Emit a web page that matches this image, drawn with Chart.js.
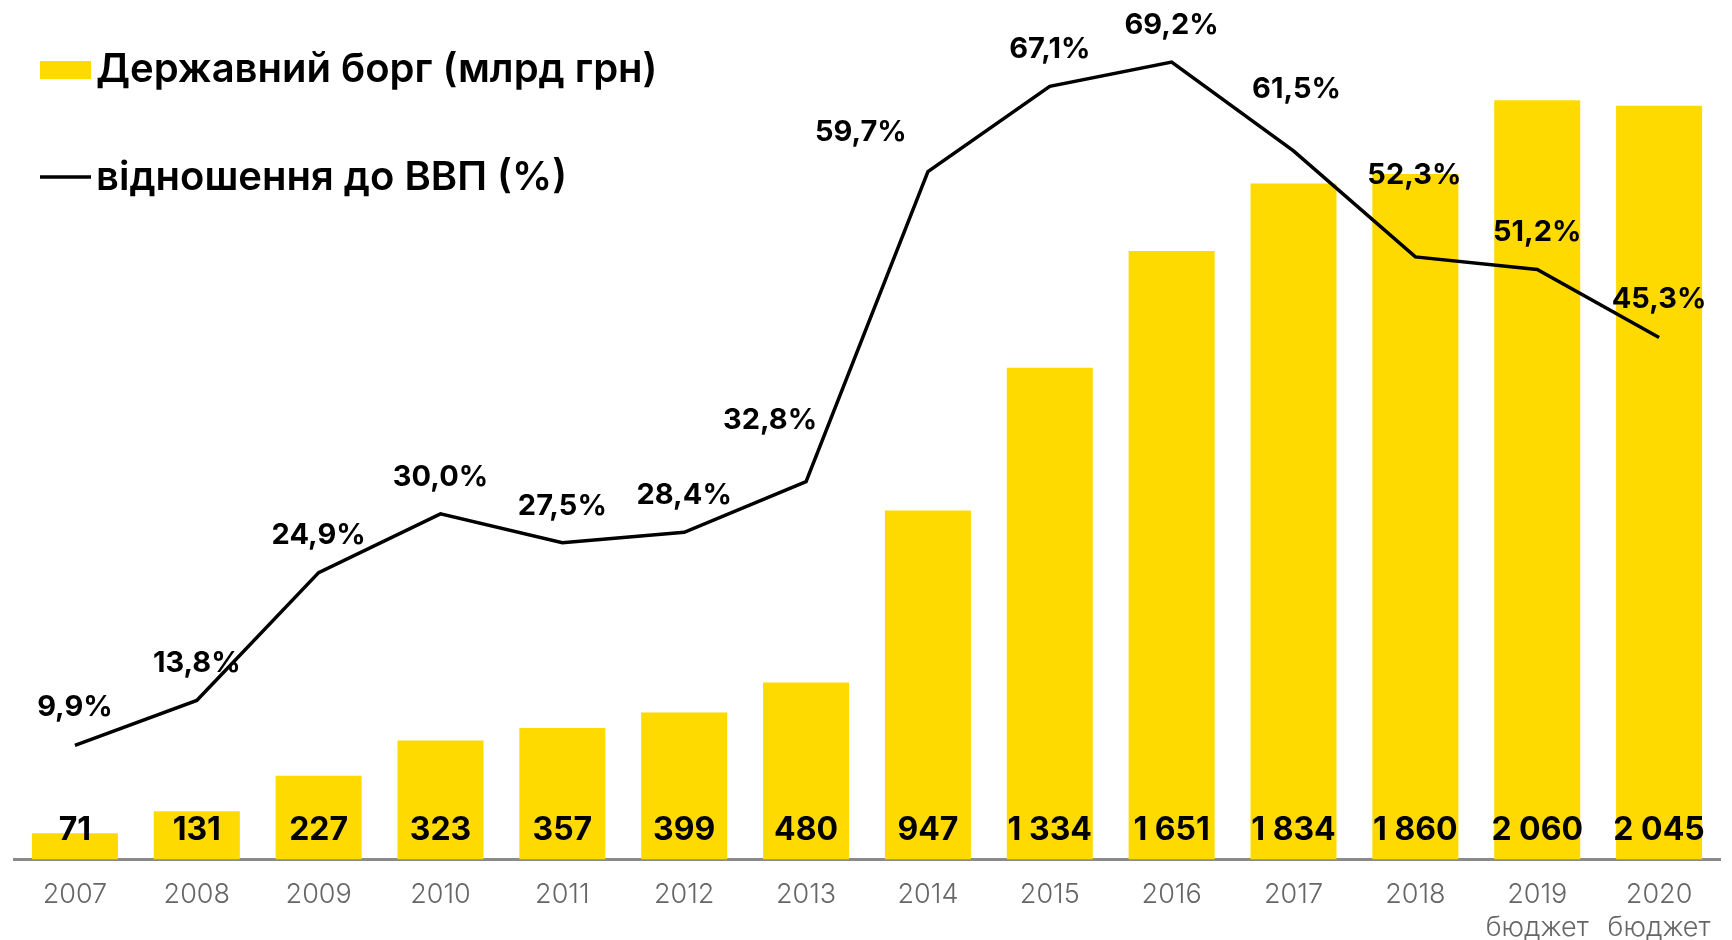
<!DOCTYPE html>
<html>
<head>
<meta charset="utf-8">
<script src="https://cdn.jsdelivr.net/npm/chart.js@4.4.1/dist/chart.umd.min.js"></script>
<style>
  html, body { margin: 0; padding: 0; background: #ffffff; }
  #wrap { width: 1732px; height: 940px; }
</style>
</head>
<body>
<div id="wrap"><canvas id="c" width="1732" height="940"></canvas></div>
<script>
// ---- data ----
const years = [['2007'], ['2008'], ['2009'], ['2010'], ['2011'], ['2012'], ['2013'], ['2014'], ['2015'], ['2016'], ['2017'], ['2018'], ['2019', 'бюджет'], ['2020', 'бюджет']];
const debtBn = [71, 131, 227, 323, 357, 399, 480, 947, 1334, 1651, 1834, 1860, 2060, 2045];
const debtToGdp = [9.9, 13.8, 24.9, 30.0, 27.5, 28.4, 32.8, 59.7, 67.1, 69.2, 61.5, 52.3, 51.2, 45.3];
const debtLabel = 'Державний борг (млрд грн)';
const ratioLabel = 'відношення до ВВП (%)';

// ---- label placement tweaks (pixels, relative to the line point) ----
const pctLabelShiftX = [0, 0, 0, 0, 0, 0, -36, -67, 0, 0, 3, -1, 0, 0];
const pctLabelRaise  = [38, 37, 37, 37, 36, 37, 61, 39, 37, 37, 62, 82, 37, 38];

const YELLOW = '#FFDA00';
const FONT = 'Inter, "Open Sans", sans-serif';

function fmtDebt(v) {
  return String(v).replace(/\B(?=(\d{3})+(?!\d))/g, ' ');
}
function fmtPct(v) {
  return v.toFixed(1).replace('.', ',') + '%';
}

const labelPlugin = {
  id: 'valueLabels',
  afterDatasetsDraw(chart) {
    const ctx = chart.ctx;
    const xScale = chart.scales.x;
    ctx.save();
    ctx.fillStyle = '#000';
    ctx.textAlign = 'center';
    ctx.textBaseline = 'middle';

    // bar values
    ctx.font = '700 32px ' + FONT;
    chart.getDatasetMeta(0).data.forEach((bar, i) => {
      ctx.fillText(fmtDebt(debtBn[i]), bar.x, xScale.top - 29);
    });

    // percentage labels
    ctx.font = '700 29px ' + FONT;
    chart.getDatasetMeta(1).data.forEach((pt, i) => {
      ctx.fillText(fmtPct(debtToGdp[i]), pt.x + pctLabelShiftX[i], pt.y - pctLabelRaise[i]);
    });

    // legend
    const ds = chart.data.datasets;
    ctx.textAlign = 'left';
    ctx.font = '600 40px ' + FONT;
    ctx.fillStyle = ds[0].backgroundColor;
    ctx.fillRect(40, 61, 51, 18);
    ctx.fillStyle = '#000';
    ctx.fillText(ds[0].label, 96, 70);

    ctx.strokeStyle = ds[1].borderColor;
    ctx.lineWidth = 3.5;
    ctx.beginPath();
    ctx.moveTo(40, 177);
    ctx.lineTo(91, 177);
    ctx.stroke();
    ctx.fillText(ds[1].label, 96, 178);
    ctx.restore();
  }
};

new Chart(document.getElementById('c'), {
  data: {
    labels: years,
    datasets: [
      {
        type: 'bar',
        label: debtLabel,
        data: debtBn,
        backgroundColor: YELLOW,
        borderWidth: 0,
        yAxisID: 'y',
        order: 2,
        categoryPercentage: 1.0,
        barPercentage: 0.706
      },
      {
        type: 'line',
        label: ratioLabel,
        data: debtToGdp,
        borderColor: '#000000',
        backgroundColor: '#000000',
        borderWidth: 3.5,
        pointRadius: 0,
        tension: 0,
        fill: false,
        yAxisID: 'y1',
        order: 1
      }
    ]
  },
  options: {
    responsive: false,
    devicePixelRatio: 1,
    animation: false,
    layout: { padding: { left: 14, right: 12, top: 8, bottom: -23 } },
    plugins: {
      legend: { display: false },
      tooltip: { enabled: false }
    },
    scales: {
      x: {
        grid: { display: false, drawTicks: false },
        border: { display: true, color: '#8a8a8a', width: 3 },
        ticks: {
          color: '#666666',
          padding: 18,
          font: { family: FONT, size: 27, weight: '300', lineHeight: 1.25 },
          maxRotation: 0,
          autoSkip: false
        }
      },
      y: {
        display: false,
        min: 0,
        max: 2310
      },
      y1: {
        display: false,
        position: 'right',
        min: 0,
        max: 73.9
      }
    }
  },
  plugins: [labelPlugin]
});
</script>
</body>
</html>
